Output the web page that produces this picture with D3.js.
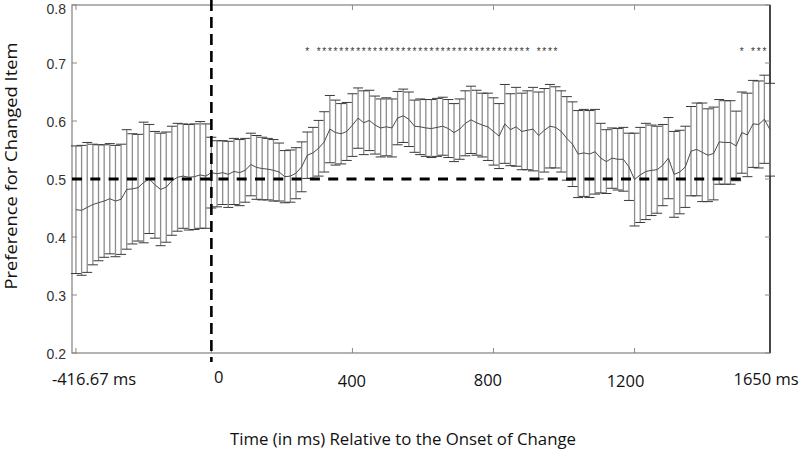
<!DOCTYPE html>
<html>
<head>
<meta charset="utf-8">
<script src="https://cdn.jsdelivr.net/npm/d3@7/dist/d3.min.js"></script>
<style>
    body { margin: 0; background: #fff; }
    svg { display: block; }
</style>
</head>
<body>
<div id="chart"></div>
<script>
// frame index of each sample (1..124)
var frames = d3.range(1, 125);

// mean preference per frame
var meanPref = [
    0.447, 0.446, 0.451, 0.456, 0.459, 0.462, 0.466, 0.462, 0.465, 0.482,
    0.483, 0.485, 0.494, 0.500, 0.490, 0.482, 0.486, 0.497, 0.503, 0.505,
    0.503, 0.504, 0.507, 0.505, 0.511, 0.509, 0.511, 0.508, 0.513, 0.511,
    0.515, 0.525, 0.520, 0.518, 0.517, 0.515, 0.512, 0.504, 0.505, 0.510,
    0.521, 0.541, 0.545, 0.553, 0.564, 0.586, 0.580, 0.578, 0.582, 0.593,
    0.605, 0.597, 0.601, 0.593, 0.588, 0.590, 0.588, 0.605, 0.609, 0.603,
    0.591, 0.590, 0.588, 0.587, 0.589, 0.591, 0.587, 0.580, 0.586, 0.596,
    0.602, 0.597, 0.593, 0.590, 0.582, 0.574, 0.595, 0.585, 0.590, 0.582,
    0.584, 0.586, 0.575, 0.584, 0.591, 0.589, 0.582, 0.570, 0.560, 0.543,
    0.545, 0.543, 0.547, 0.536, 0.530, 0.536, 0.534, 0.534, 0.521, 0.499,
    0.507, 0.513, 0.515, 0.516, 0.524, 0.536, 0.508, 0.512, 0.521, 0.548,
    0.551, 0.546, 0.541, 0.544, 0.564, 0.563, 0.563, 0.557, 0.580, 0.576,
    0.595, 0.594, 0.603, 0.585
];

// half width of the error bar per frame
var errPref = [
    0.110, 0.112, 0.112, 0.104, 0.100, 0.097, 0.095, 0.096, 0.095, 0.103,
    0.095, 0.092, 0.104, 0.094, 0.092, 0.097, 0.095, 0.094, 0.093, 0.090,
    0.091, 0.091, 0.092, 0.090, 0.061, 0.057, 0.055, 0.057, 0.057, 0.057,
    0.055, 0.054, 0.055, 0.054, 0.053, 0.053, 0.050, 0.045, 0.045, 0.044,
    0.043, 0.040, 0.044, 0.048, 0.052, 0.058, 0.056, 0.052, 0.050, 0.054,
    0.052, 0.055, 0.052, 0.050, 0.050, 0.050, 0.050, 0.046, 0.046, 0.047,
    0.045, 0.048, 0.049, 0.050, 0.050, 0.050, 0.050, 0.050, 0.052, 0.056,
    0.058, 0.056, 0.055, 0.058, 0.058, 0.056, 0.068, 0.062, 0.068, 0.066,
    0.068, 0.072, 0.075, 0.072, 0.072, 0.070, 0.070, 0.072, 0.073, 0.075,
    0.075, 0.075, 0.073, 0.060, 0.055, 0.052, 0.053, 0.055, 0.058, 0.080,
    0.082, 0.083, 0.078, 0.075, 0.070, 0.070, 0.074, 0.072, 0.070, 0.077,
    0.080, 0.085, 0.080, 0.080, 0.073, 0.072, 0.072, 0.060, 0.070, 0.072,
    0.075, 0.075, 0.076, 0.080
];

// frames marked significant (asterisks)
var sigFrames = [42].concat(d3.range(44, 82), d3.range(83, 87), [119], d3.range(121, 124));

// axis ticks
var xTickFrames = [1, 25, 50, 75, 100];
var yTicks = [0.2, 0.3, 0.4, 0.5, 0.6, 0.7, 0.8];
var xLabels = ["-416.67 ms", "0", "400", "800", "1200", "1650 ms"];
var xLabelFrames = [4.2, 26.3, 49.9, 74.0, 98.4, 123.3];
var xLabelBase = [385, 383, 387, 386, 387, 385];

var onsetFrame = 25;   // onset of change
var chance = 0.5;

var W = 800, H = 451;
var box = {left: 72, right: 770, top: 5, bottom: 353};

var svg = d3.select('#chart').append('svg')
    .attr('width', W)
    .attr('height', H);

var x = d3.scaleLinear().domain([0.3, 124]).range([box.left, box.right]);
var y = d3.scaleLinear().domain([0.2, 0.8]).range([box.bottom, box.top]);

var data = frames.map(function (f, i) {
    return {f: f, m: meanPref[i], e: errPref[i]};
});

// 坐标框
svg.append('rect')
    .attr('x', box.left).attr('y', box.top)
    .attr('width', box.right - box.left).attr('height', box.bottom - box.top)
    .attr('fill', 'none').attr('stroke', '#8a8a8a').attr('stroke-width', 1.3);
svg.append('line')
    .attr('x1', box.right).attr('x2', box.right)
    .attr('y1', box.top).attr('y2', box.bottom)
    .attr('stroke', '#222').attr('stroke-width', 1.5);

// inward ticks on all sides
var ticks = svg.append('g').attr('stroke', '#8a8a8a').attr('stroke-width', 1);
xTickFrames.forEach(function (f) {
    ticks.append('line').attr('x1', x(f)).attr('x2', x(f)).attr('y1', box.bottom).attr('y2', box.bottom - 5);
    ticks.append('line').attr('x1', x(f)).attr('x2', x(f)).attr('y1', box.top).attr('y2', box.top + 5);
});
yTicks.forEach(function (v) {
    ticks.append('line').attr('x1', box.left).attr('x2', box.left + 5).attr('y1', y(v)).attr('y2', y(v));
    ticks.append('line').attr('x1', box.right).attr('x2', box.right - 5).attr('y1', y(v)).attr('y2', y(v));
});

// y tick labels (top one pushed down so it is not clipped)
svg.append('g').selectAll('text')
    .data(yTicks)
    .join('text')
    .attr('x', 66)
    .attr('y', function (d) { return Math.max(y(d) + 6, 14); })
    .attr('text-anchor', 'end')
    .attr('font-family', 'Liberation Sans, Arial, sans-serif')
    .attr('font-size', 14)
    .attr('fill', '#333')
    .text(function (d) { return d.toFixed(1); });

// error bars
var bars = svg.append('g');
bars.selectAll('line.bar')
    .data(data)
    .join('line')
    .attr('class', 'bar')
    .attr('x1', function (d) { return x(d.f); })
    .attr('x2', function (d) { return x(d.f); })
    .attr('y1', function (d) { return y(d.m - d.e); })
    .attr('y2', function (d) { return y(d.m + d.e); })
    .attr('stroke', '#8c8c8c')
    .attr('stroke-width', 1.3);

var capW = 5;
['top', 'bot'].forEach(function (k) {
    bars.selectAll('line.cap-' + k)
        .data(data)
        .join('line')
        .attr('class', 'cap-' + k)
        .attr('x1', function (d) { return x(d.f) - capW; })
        .attr('x2', function (d) { return x(d.f) + capW; })
        .attr('y1', function (d) { return y(k === 'top' ? d.m + d.e : d.m - d.e); })
        .attr('y2', function (d) { return y(k === 'top' ? d.m + d.e : d.m - d.e); })
        .attr('stroke', '#3a3a3a')
        .attr('stroke-width', 1);
});

// mean line
svg.append('path')
    .datum(data)
    .attr('fill', 'none')
    .attr('stroke', '#4a4a4a')
    .attr('stroke-width', 1)
    .attr('d', d3.line().x(function (d) { return x(d.f); }).y(function (d) { return y(d.m); }));

// chance level and onset lines
svg.append('line')
    .attr('x1', box.left).attr('x2', 746)
    .attr('y1', y(chance)).attr('y2', y(chance))
    .attr('stroke', '#000').attr('stroke-width', 2.8)
    .attr('stroke-dasharray', '10,8.3');
svg.append('line')
    .attr('x1', x(onsetFrame)).attr('x2', x(onsetFrame))
    .attr('y1', 0).attr('y2', 362)
    .attr('stroke', '#000').attr('stroke-width', 2.6)
    .attr('stroke-dasharray', '11,6');

// significance asterisks
svg.append('g').selectAll('text')
    .data(sigFrames)
    .join('text')
    .attr('x', function (d) { return x(d); })
    .attr('y', 55)
    .attr('text-anchor', 'middle')
    .attr('font-family', 'Liberation Sans, Arial, sans-serif')
    .attr('font-size', 10)
    .attr('fill', '#333')
    .text('*');

// x tick labels
var labelFont = 'Open Sans, Noto Sans, sans-serif';
svg.append('g').selectAll('text')
    .data(xLabels)
    .join('text')
    .attr('x', function (d, i) { return x(xLabelFrames[i]); })
    .attr('y', function (d, i) { return xLabelBase[i]; })
    .attr('text-anchor', 'middle')
    .attr('font-family', labelFont)
    .attr('font-size', 16.5)
    .attr('fill', '#111')
    .text(function (d) { return d; });

// axis titles
svg.append('text')
    .attr('x', 403).attr('y', 445)
    .attr('text-anchor', 'middle')
    .attr('font-family', labelFont)
    .attr('font-size', 16.5)
    .attr('fill', '#111')
    .attr('textLength', 346)
    .attr('lengthAdjust', 'spacingAndGlyphs')
    .text('Time (in ms) Relative to the Onset of Change');

svg.append('text')
    .attr('transform', 'translate(17,166) rotate(-90)')
    .attr('text-anchor', 'middle')
    .attr('font-family', labelFont)
    .attr('font-size', 17)
    .attr('fill', '#111')
    .attr('textLength', 247)
    .attr('lengthAdjust', 'spacingAndGlyphs')
    .text('Preference for Changed Item');
</script>
</body>
</html>
